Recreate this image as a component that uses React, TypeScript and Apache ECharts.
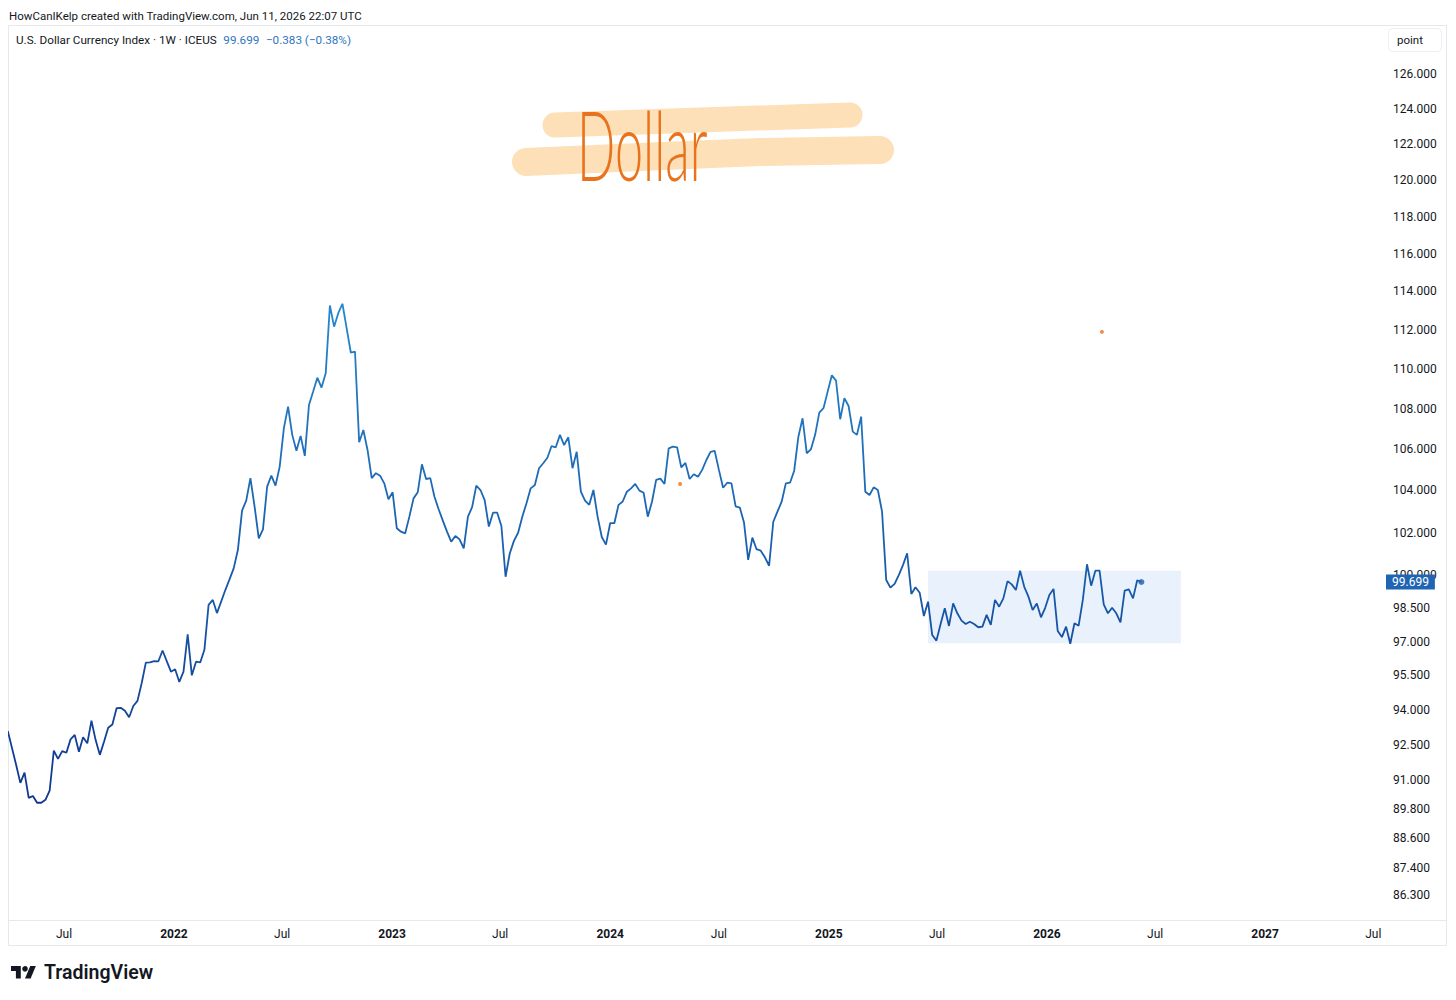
import React, { useEffect, useRef } from "react";
import * as echarts from "echarts";

// ---------- data ----------
const firstWeek = "2021-03-29"; // weekly bars (Mondays)
const dxy2021 = [
  93.08, 92.35, 91.63, 90.88, 91.31, 90.25, 90.33, 90.05, 90.05, 90.17,
  90.55, 92.24, 91.89, 92.22, 92.15, 92.72, 92.91, 92.19, 92.81, 92.55,
  93.52, 92.69, 92.06, 92.62, 93.22, 93.36, 94.06, 94.08, 93.95, 93.67,
  94.16, 94.38, 95.15, 96.06, 96.07, 96.13, 96.12, 96.6, 96.13, 95.66,
];
const dxy2022 = [
  95.77, 95.21, 95.66, 97.32, 95.5, 96.1, 96.07, 96.63, 98.65, 98.88,
  98.28, 98.8, 99.33, 99.82, 100.33, 101.18, 103.04, 103.51, 104.59, 103.23,
  101.73, 102.15, 104.18, 104.71, 104.23, 105.15, 107.03, 108.1, 106.7, 105.92,
  106.65, 105.67, 108.18, 108.85, 109.55, 109.05, 109.77, 113.26, 112.16, 112.86,
  113.35, 112.08, 110.83, 110.88, 106.34, 106.94, 105.96, 104.59, 104.83, 104.71,
  104.34, 103.58,
];
const dxy2023 = [
  103.91, 102.2, 102.04, 101.96, 102.75, 103.62, 103.91, 105.26, 104.55, 104.59,
  103.7, 103.1, 102.56, 102.04, 101.57, 101.84, 101.68, 101.26, 102.75, 103.2,
  104.23, 104.02, 103.54, 102.28, 102.94, 102.94, 102.31, 99.94, 101.02, 101.61,
  101.99, 102.75, 103.39, 104.1, 104.26, 105.07, 105.31, 105.58, 106.15, 106.09,
  106.7, 106.2, 106.58, 105.07, 105.87, 103.94, 103.51, 103.31, 104.02, 102.75,
  101.79, 101.43,
];
const dxy2024 = [
  102.44, 102.44, 103.31, 103.47, 103.94, 104.1, 104.31, 103.99, 103.89, 102.75,
  103.46, 104.51, 104.57, 104.31, 106.04, 106.12, 106.09, 105.11, 105.33, 104.55,
  104.78, 104.66, 104.99, 105.47, 105.87, 105.91, 104.99, 104.13, 104.37, 104.34,
  103.24, 103.18, 102.47, 100.72, 101.76, 101.22, 101.15, 100.84, 100.45, 102.51,
  102.99, 103.46, 104.34, 104.37, 104.95, 106.61, 107.52, 105.8, 105.99, 106.7,
  107.8, 108.02, 108.85,
];
const dxy2025 = [
  109.67, 109.4, 107.47, 108.52, 108.13, 106.86, 106.7, 107.6, 103.94, 103.78,
  104.15, 104.02, 102.99, 99.79, 99.44, 99.61, 100.02, 100.48, 101.03, 99.15,
  99.46, 99.21, 98.15, 98.8, 97.29, 97.04, 97.79, 98.5, 97.7, 98.72,
  98.27, 97.94, 97.79, 97.89, 97.79, 97.64, 97.67, 98.2, 97.75, 98.88,
  98.57, 98.95, 99.74, 99.59, 99.33, 100.22, 99.48, 99.03, 98.42, 98.72,
  98.09, 98.52,
];
const dxy2026 = [
  99.1, 99.38, 97.47, 97.2, 97.67, 96.9, 97.82, 97.71, 98.88, 100.52,
  99.53, 100.22, 100.22, 98.68, 98.27, 98.52, 98.27, 97.86, 99.3, 99.36,
  98.95, 99.78, 99.699,
];
const lastPrice = 99.699;
const lastChange = "−0.383 (−0.38%)";

const priceTicks = [
  86.3, 87.4, 88.6, 89.8, 91, 92.5, 94, 95.5, 97, 98.5, 100, 102, 104, 106,
  108, 110, 112, 114, 116, 118, 120, 122, 124, 126,
];
const timeTicks = [
  "2021-07-01", "2022-01-01", "2022-07-01", "2023-01-01", "2023-07-01",
  "2024-01-01", "2024-07-01", "2025-01-01", "2025-07-01", "2026-01-01",
  "2026-07-01", "2027-01-01", "2027-07-01",
];
const monthNames = ["Jan", "Feb", "Mar", "Apr", "May", "Jun", "Jul", "Aug", "Sep", "Oct", "Nov", "Dec"];

// range box (drawn rectangle) and two marker dots
const boxStart = "2025-06-16";
const boxEnd = "2026-08-13";
const boxHigh = 100.22;
const boxLow = 96.92;
const markerDates = ["2024-04-27", "2026-04-03"];
const markerValues = [104.31, 111.89];

const viewStart = "2021-03-31";
const viewEnd = "2027-07-19";
const priceMin = 85.27;
const priceMax = 128.9;

const FONT = "Roboto, 'Noto Sans', sans-serif";
const TEXT = "#131722";

export default function App() {
  const ref = useRef<HTMLDivElement | null>(null);

  useEffect(() => {
    if (!ref.current) return;
    const chart = echarts.init(ref.current, undefined, { renderer: "svg" });

    const allPrices = [...dxy2021, ...dxy2022, ...dxy2023, ...dxy2024, ...dxy2025, ...dxy2026];
    const t0 = Date.parse(firstWeek);
    const WEEK = 7 * 86400000;
    const lineData = allPrices.map((v, k) => [t0 + k * WEEK, v]);
    const lastPoint = lineData[lineData.length - 1];

    const lineGradient = new echarts.graphic.LinearGradient(0, 0, 0, 1, [
      { offset: 0, color: "#2587cb" },
      { offset: 1, color: "#0f3690" },
    ]);

    chart.setOption({
      animation: false,
      backgroundColor: "#ffffff",
      grid: { left: 9, right: 72, top: 25, bottom: 79 },
      xAxis: {
        type: "value",
        min: Date.parse(viewStart),
        max: Date.parse(viewEnd),
        axisLine: { show: false },
        axisTick: { show: false },
        splitLine: { show: false },
        axisLabel: {
          customValues: timeTicks.map((d) => Date.parse(d)),
          formatter: (v: number) => {
            const d = new Date(v);
            const m = d.getUTCMonth();
            return m === 0 ? `{y|${d.getUTCFullYear()}}` : monthNames[m];
          },
          rich: { y: { fontWeight: "bold", fontSize: 12, color: TEXT, fontFamily: FONT } },
          color: TEXT,
          fontSize: 12,
          fontFamily: FONT,
          margin: 7,
          hideOverlap: false,
        },
      },
      yAxis: {
        type: "log",
        logBase: 10,
        min: priceMin,
        max: priceMax,
        position: "right",
        axisLine: { show: false },
        axisTick: { show: false },
        splitLine: { show: false },
        axisLabel: {
          customValues: priceTicks,
          formatter: (v: number) => Number(v).toFixed(3),
          color: TEXT,
          fontSize: 12,
          fontFamily: FONT,
          margin: 9,
        },
      },
      series: [
        {
          type: "scatter",
          z: 1,
          data: [],
          markArea: {
            silent: true,
            itemStyle: { color: "#e8f1fc" },
            data: [[
              { xAxis: Date.parse(boxStart), yAxis: boxHigh },
              { xAxis: Date.parse(boxEnd), yAxis: boxLow },
            ]],
          },
        },
        {
          type: "line",
          z: 3,
          data: lineData,
          showSymbol: false,
          symbol: "none",
          clip: true,
          lineStyle: { width: 1.8, color: lineGradient },
        },
        {
          type: "line",
          z: 10,
          data: [],
          clip: false,
          markLine: {
            silent: true,
            symbol: "none",
            lineStyle: { color: "rgba(0,0,0,0)", width: 0 },
            label: {
              show: true,
              position: "end",
              distance: 2,
              formatter: lastPrice.toFixed(3),
              backgroundColor: "#2064b4",
              color: "#ffffff",
              fontSize: 12,
              fontFamily: FONT,
              padding: [1, 6, 1, 6],
              lineHeight: 13,
            },
            data: [{ yAxis: lastPrice }],
          },
        },
        {
          type: "scatter",
          z: 4,
          symbolSize: 6,
          itemStyle: { color: "#1f5fae" },
          data: [lastPoint],
        },
        {
          type: "scatter",
          z: 4,
          symbolSize: 4,
          itemStyle: { color: "#ee6f1c" },
          data: markerDates.map((d, k) => [Date.parse(d), markerValues[k]]),
        },
      ],
      graphic: [
        {
          type: "rect",
          silent: true,
          shape: { x: 8.5, y: 25.5, width: 1438, height: 920 },
          style: { fill: "none", stroke: "#e6e8ee", lineWidth: 1 },
        },
        {
          type: "line",
          silent: true,
          shape: { x1: 8.5, y1: 920.5, x2: 1446.5, y2: 920.5 },
          style: { stroke: "#e6e8ee", lineWidth: 1 },
        },
        {
          type: "text",
          x: 9,
          y: 16,
          style: {
            text: "HowCanIKelp created with TradingView.com, Jun 11, 2026 22:07 UTC",
            fill: TEXT,
            font: `11.5px ${FONT}`,
            verticalAlign: "middle",
          },
        },
        {
          type: "text",
          x: 16,
          y: 40,
          style: {
            text: `{a|U.S. Dollar Currency Index · 1W · ICEUS}  {b|${lastPrice.toFixed(3)}}  {b|${lastChange}}`,
            verticalAlign: "middle",
            rich: {
              a: { fill: TEXT, fontSize: 11.7, fontFamily: FONT },
              b: { fill: "#2f76c0", fontSize: 11.7, fontFamily: FONT },
            },
          },
        },
        {
          type: "rect",
          shape: { x: 1388.5, y: 28.5, width: 53, height: 23, r: 4 },
          style: { fill: "#ffffff", stroke: "#eceef2", lineWidth: 1 },
        },
        {
          type: "text",
          x: 1397,
          y: 40,
          style: { text: "point", fill: TEXT, font: `11.5px ${FONT}`, verticalAlign: "middle" },
        },
        // highlighter strokes
        {
          type: "polyline",
          silent: true,
          shape: { points: [[526, 162], [640, 157], [760, 152], [880, 150]] },
          style: { stroke: "#fde0b8", lineWidth: 28, lineCap: "round", lineJoin: "round", fill: "none" },
        },
        {
          type: "polyline",
          silent: true,
          shape: { points: [[555, 125], [700, 120], [850, 115]] },
          style: { stroke: "#fde0b8", lineWidth: 25, lineCap: "round", lineJoin: "round", fill: "none" },
        },
        {
          type: "text",
          x: 577,
          y: 191,
          scaleX: 0.84,
          scaleY: 1.6,
          style: {
            text: "Dollar",
            fill: "#e8731c",
            fontSize: 60,
            fontWeight: 300,
            fontFamily: "Lato, 'Noto Sans', sans-serif",
            verticalAlign: "bottom",
          },
        },
        // TradingView logo
        {
          type: "group",
          x: 11,
          y: 963.2,
          scaleX: 0.7,
          scaleY: 0.7,
          children: [
            {
              type: "polygon",
              shape: { points: [[0, 4], [14, 4], [14, 22], [7, 22], [7, 11], [0, 11]] },
              style: { fill: TEXT },
            },
            { type: "circle", shape: { cx: 20, cy: 8, r: 4 }, style: { fill: TEXT } },
            {
              type: "polygon",
              shape: { points: [[20, 22], [27.5, 4], [35.5, 4], [28, 22]] },
              style: { fill: TEXT },
            },
          ],
        },
        {
          type: "text",
          x: 44,
          y: 972.5,
          style: {
            text: "TradingView",
            fill: TEXT,
            fontSize: 19.5,
            fontWeight: 600,
            fontFamily: FONT,
            verticalAlign: "middle",
          },
        },
      ],
    });

    return () => chart.dispose();
  }, []);

  return (
    <div
      ref={ref}
      style={{ position: "absolute", left: 0, top: 0, width: 1456, height: 1000, background: "#fff" }}
    />
  );
}
